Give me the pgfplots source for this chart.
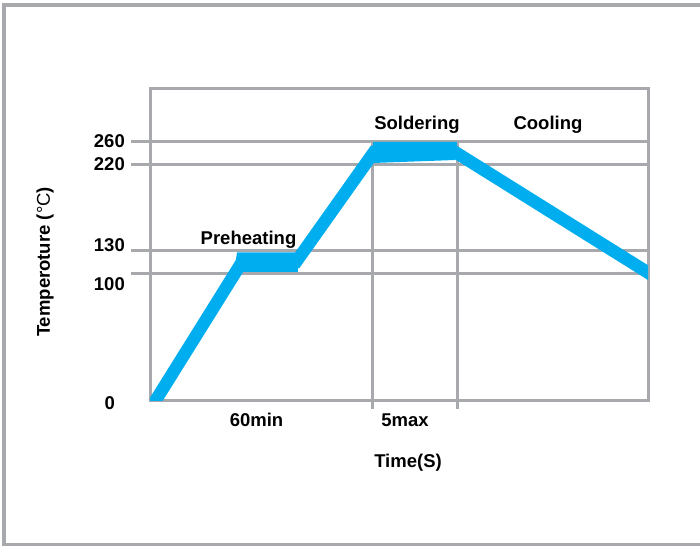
\documentclass[border=0pt]{standalone}
\usepackage{fontspec}
\setmainfont{Liberation Sans}
\usepackage{pgfplots}
\pgfplotsset{compat=1.18}
\definecolor{linegrey}{HTML}{A8A9AD}
\definecolor{flow}{HTML}{00AEEF}
\tikzset{lab/.style={font=\bfseries\fontsize{18.5}{21}\selectfont, inner sep=0pt}}
\begin{document}
\begin{tikzpicture}
\useasboundingbox (0,0) rectangle (700pt,546pt);
% outer frame (right edge falls outside the page)
\draw[linegrey, line width=3.5pt] (4pt,1.5pt) rectangle (720pt,541pt);
\begin{axis}[
    at={(150pt,146pt)}, anchor=south west,
    x=1pt, y=1pt,
    xmin=0, xmax=498, ymin=0, ymax=311,
    clip mode=individual,
    axis line style={draw=linegrey, line width=3pt},
    xtick=\empty,
    ytick={126.7,149,235.7,258.3}, yticklabels={},
    ytick pos=left, tick align=outside, major tick length=19pt,
    ytick style={draw=linegrey, line width=3pt},
    ymajorgrids, major grid style={draw=linegrey, line width=3pt},
]
% the two time markers
\draw[linegrey, line width=3pt] (axis cs:222.5,258.3) -- (axis cs:222.5,-9);
\draw[linegrey, line width=3pt] (axis cs:307.5,258.3) -- (axis cs:307.5,-9);

% hold zones
\addplot[fill=flow, draw=none] coordinates {(84,128) (148,128) (147,147.5) (87,147.5)} -- cycle;
\addplot[fill=flow, draw=none] coordinates {(223,237) (305,240) (307,258) (223,258)} -- cycle;
% temperature profile
\addplot[flow, line width=12.5pt, line join=miter] coordinates {
    (4,-3) (92,138) (146,138) (224,248) (305,248) (505,123)};

% y tick labels
\node[lab, anchor=east] at (axis cs:-25,259) {260};
\node[lab, anchor=east] at (axis cs:-25,236) {220};
\node[lab, anchor=east] at (axis cs:-25,155) {130};
\node[lab, anchor=east] at (axis cs:-25,116) {100};
\node[lab, anchor=east] at (axis cs:-35,-3.5) {0};
% x labels
\node[lab] at (axis cs:106.5,-20) {60min};
\node[lab] at (axis cs:255,-20) {5max};
% phase labels
\node[lab, anchor=base] at (axis cs:98.5,155) {Preheating};
\node[lab, anchor=base] at (axis cs:267,270) {Soldering};
\node[lab, anchor=base] at (axis cs:398,270) {Cooling};
% axis titles
\node[lab] at (axis cs:258,-63) {Time(S)};
\node[lab, rotate=90] at (axis cs:-105,138) {Temperoture ({\mdseries\textdegree C})};
\end{axis}
\end{tikzpicture}
\end{document}
